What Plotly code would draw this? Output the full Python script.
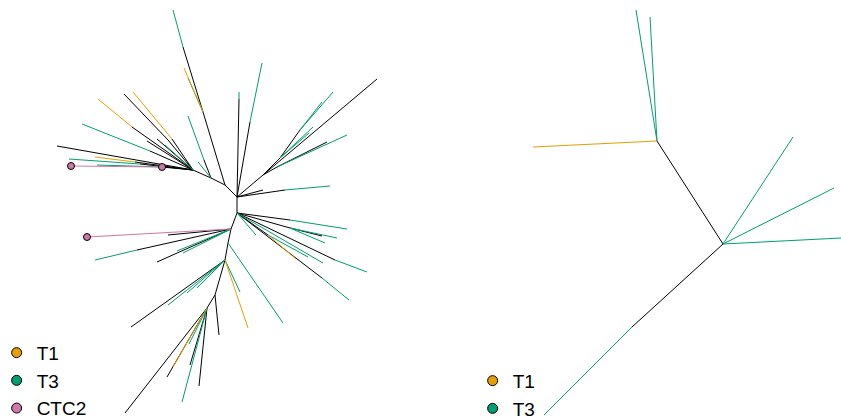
import plotly.graph_objects as go

# ---------------- data: left tree (node positions in layout units) ----------------
left_x = [237, 237, 225, 239, 239, 250, 262, 263, 377, 280, 300, 333, 322, 313, 309,
          277, 327, 347, 263, 285, 330,
          203, 183, 173, 184, 188, 211, 204, 188, 193, 168, 124, 172, 133, 132, 98,
          150, 82, 57, 162, 71, 140, 69, 135, 95, 97, 147, 157, 165, 198, 162,
          290, 347, 290, 337, 325, 322, 335, 367, 323, 322, 349, 268, 296, 256, 308,
          231, 87, 168, 137, 95, 157, 177, 183, 228, 283, 225, 131, 168, 187, 197,
          248, 240, 215, 219, 207, 182, 199, 167, 173, 125, 189, 190]
left_y = [197, 213, 185, 99, 92, 122, 63, 175, 79, 158, 130, 92, 102, 127, 133,
          167, 142, 135, 190, 190, 186,
          112, 47, 10, 68, 78, 178, 160, 116, 170, 140, 94, 139, 92, 127, 99,
          151, 124, 146, 167, 166, 164, 159, 162, 157, 165, 141, 139, 145, 162, 167,
          220, 229, 228, 238, 243, 236, 260, 272, 263, 278, 300, 235, 259, 235, 257,
          229, 237, 235, 250, 260, 262, 251, 253, 243, 323, 260, 327, 305, 293, 288,
          328, 292, 295, 335, 308, 402, 386, 377, 367, 413, 344, 365]
left_parent = [-1, 0, 0, 0, 3, 0, 5, 0, 7, 7, 9, 10, 10, 9, 9,
               7, 15, 15, 0, 0, 19,
               2, 21, 22, 21, 21, 2, 26, 27, 26, 29, 30, 29, 32, 29, 34,
               29, 36, 29, 29, 39, 29, 41, 29, 43, 39, 29, 29, 29, 26, 39,
               1, 51, 1, 53, 53, 53, 1, 57, 1, 1, 60, 1, 62, 1, 62,
               1, 66, 66, 66, 69, 66, 66, 66, 66, 74, 74, 76, 76, 76, 76,
               76, 76, 76, 83, 83, 85, 85, 85, 85, 85, 85, 85]
left_group = ["", "N", "N", "N", "T3", "N", "T3", "N", "N", "N", "N", "T3", "T3", "T3", "T3",
              "N", "N", "T3", "N", "N", "T3",
              "N", "N", "T3", "T1", "T3", "N", "N", "T3", "N", "N", "N", "N", "T1", "N", "T1",
              "N", "T3", "N", "N", "CTC2", "N", "T3", "N", "T1", "T3", "N", "N", "T3", "T3", "CTC2",
              "N", "T3", "N", "T3", "T3", "N", "N", "T3", "T3", "N", "T3", "N", "T1", "T3", "T3",
              "N", "CTC2", "N", "N", "T3", "N", "T3", "T3", "N", "T3", "N", "N", "T3", "T3", "T3",
              "T1", "T3", "N", "N", "N", "T3", "N", "N", "T1", "N", "T3", "N"]

# ---------------- data: right tree ----------------
right_x = [723, 657, 636, 650, 533, 793, 834, 841, 632, 544]
right_y = [244, 141, 10, 17, 147, 137, 188, 238, 327, 415]
right_parent = [-1, 0, 1, 1, 1, 0, 0, 0, 0, 8]
right_group = ["", "N", "T3", "T3", "T1", "T3", "T3", "T3", "N", "T3"]

groups = ["T1", "T3", "CTC2"]
colors = {"N": "#000000", "T1": "#E69F00", "T3": "#009E73", "CTC2": "#CC79A7"}

fig = go.Figure()


def add_tree(xs, ys, parent, group):
    for g in ["N", "T3", "T1", "CTC2"]:
        ex, ey = [], []
        for i, p in enumerate(parent):
            if p < 0 or group[i] != g:
                continue
            ex += [xs[p], xs[i], None]
            ey += [ys[p], ys[i], None]
        if ex:
            fig.add_trace(go.Scatter(x=ex, y=ey, mode="lines",
                                     line=dict(color=colors[g], width=1),
                                     hoverinfo="skip", showlegend=False))
    # tip points for CTC2
    px = [xs[i] for i in range(len(xs)) if group[i] == "CTC2"]
    py = [ys[i] for i in range(len(ys)) if group[i] == "CTC2"]
    if px:
        fig.add_trace(go.Scatter(x=px, y=py, mode="markers",
                                 marker=dict(color=colors["CTC2"], size=7,
                                             line=dict(color="#000000", width=1)),
                                 hoverinfo="skip", showlegend=False))


add_tree(left_x, left_y, left_parent, left_group)
add_tree(right_x, right_y, right_parent, right_group)

# legends
for g in groups:
    fig.add_trace(go.Scatter(x=[None], y=[None], mode="markers", name=g,
                             marker=dict(color=colors[g], size=10,
                                         line=dict(color="#000000", width=1)),
                             legend="legend"))
for g in ["T1", "T3"]:
    fig.add_trace(go.Scatter(x=[None], y=[None], mode="markers", name=g,
                             marker=dict(color=colors[g], size=10,
                                         line=dict(color="#000000", width=1)),
                             legend="legend2"))

legend_font = dict(family="Liberation Sans, Arial, sans-serif", size=19, color="#000000")
fig.update_layout(
    width=841, height=419,
    margin=dict(l=0, r=0, t=0, b=0, autoexpand=False),
    paper_bgcolor="white", plot_bgcolor="white",
    xaxis=dict(range=[0, 841], visible=False, fixedrange=True),
    yaxis=dict(range=[419, 0], visible=False, fixedrange=True),
    legend=dict(x=-0.004, xanchor="left", y=-0.021, yanchor="bottom",
                font=legend_font, bgcolor="rgba(0,0,0,0)", tracegroupgap=0),
    legend2=dict(x=0.562, xanchor="left", y=-0.021, yanchor="bottom",
                 font=legend_font, bgcolor="rgba(0,0,0,0)", tracegroupgap=0),
    showlegend=True,
)

fig.write_html("out.html", config={"displayModeBar": False},
               post_script="document.body.style.margin='0';")
